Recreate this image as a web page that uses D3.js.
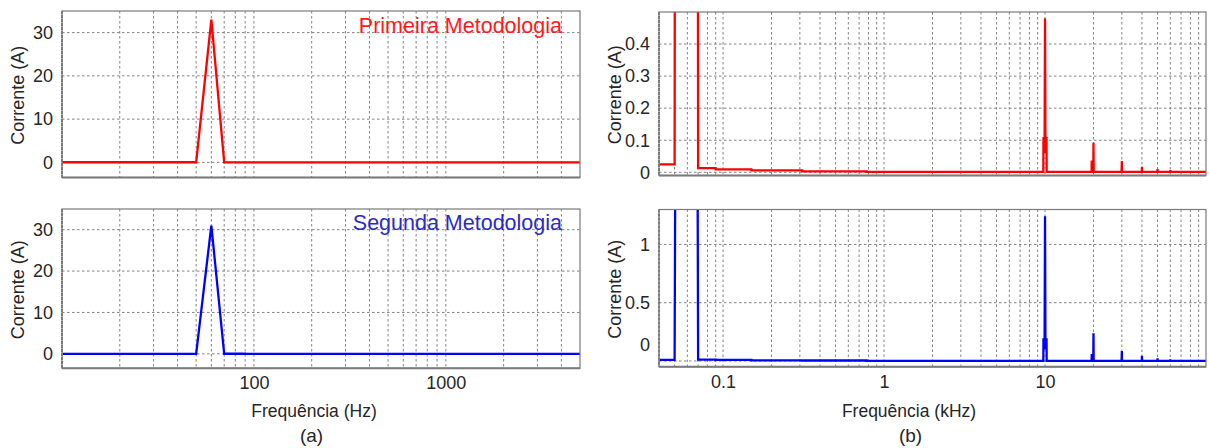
<!DOCTYPE html>
<html lang="pt">
<head>
    <meta charset="UTF-8">
    <title>Espectro de corrente</title>
    <script src="https://d3js.org/d3.v7.min.js"></script>
    <style>
        body { margin: 0; background: #fff; }
        text { font-family: "Liberation Sans", Arial, sans-serif; fill: #262626; }
    </style>
</head>
<body>
    <svg id="chart"></svg>

    <script>
        // Frequencias em Hz e corrente (A)
        const freqHz = [10, 50, 60, 70, 90, 90, 150, 150, 310, 310, 780, 780,
            9760, 9780, 9880, 9940, 10000, 10060, 10120, 10220, 10240,
            19480, 19500, 19600, 19620, 19940, 20000, 20060,
            29880, 29940, 30000, 30060,
            39940, 40000, 40060,
            49940, 50000, 50060,
            59940, 60000, 60060,
            100000];

        const primeira = [0.025, 0.025, 33, 0.013, 0.013, 0.009, 0.009, 0.006, 0.006, 0.003, 0.003, 0.001,
            0.001, 0.11, 0.06, 0.11, 0.48, 0.11, 0.06, 0.11, 0.001,
            0.001, 0.033, 0.033, 0.001, 0.001, 0.092, 0.001,
            0.001, 0.015, 0.035, 0.001,
            0.001, 0.017, 0.001,
            0.001, 0.01, 0.001,
            0.001, 0.007, 0.001,
            0.001];

        const segunda = [0.01, 0.01, 31, 0.012, 0.012, 0.01, 0.01, 0.006, 0.006, 0.004, 0.004, 0.001,
            0.001, 0.195, 0.1, 0.195, 1.242, 0.195, 0.1, 0.195, 0.001,
            0.001, 0.05, 0.05, 0.001, 0.001, 0.237, 0.001,
            0.001, 0.03, 0.086, 0.001,
            0.001, 0.045, 0.001,
            0.001, 0.023, 0.001,
            0.001, 0.015, 0.001,
            0.001];

        const yTicksA = [0, 10, 20, 30];
        const yTicksB1 = [0, 0.1, 0.2, 0.3, 0.4];
        const yTicksB2 = [0, 0.5, 1];
        const xTicksA = [100, 1000];
        const xTicksB = [100, 1000, 10000];   // mostrados em kHz

        const width = 1209, height = 448;
        const svg = d3.select("#chart").attr("width", width).attr("height", height);

        const panels = [
            { id: "tl", x0: 62, x1: 580, y0: 11, y1: 177.5, xd: [10, 5000], yd: [-3.5, 35],
              values: primeira, color: "#ff0000", yTicks: yTicksA, xTicks: null,
              title: "Primeira Metodologia", titleColor: "#ff1a1a", titleY: 32.5, yfmt: d3.format("d") },
            { id: "bl", x0: 62, x1: 580, y0: 209, y1: 368.3, xd: [10, 5000], yd: [-3.5, 35],
              values: segunda, color: "#0000ff", yTicks: yTicksA, xTicks: xTicksA, xfmt: d3.format("d"),
              title: "Segunda Metodologia", titleColor: "#2b2bc4", titleY: 230, yfmt: d3.format("d") },
            { id: "tr", x0: 659, x1: 1206, y0: 12, y1: 175.5, xd: [40, 100000], yd: [-0.01, 0.5],
              values: primeira, color: "#ff0000", yTicks: yTicksB1, xTicks: null, yfmt: d => d === 0 ? "0" : d3.format(".1f")(d) },
            { id: "br", x0: 659, x1: 1206, y0: 209.5, y1: 366.8, xd: [40, 100000], yd: [-0.05, 1.3],
              values: segunda, color: "#0000ff", yTicks: yTicksB2, xTicks: xTicksB, xfmt: d => String(d / 1000),
              yfmt: d => d === 0 ? "0" : String(d), zeroShift: -16 }
        ];

        panels.forEach(p => {
            const x = d3.scaleLog().domain(p.xd).range([p.x0, p.x1]);
            const y = d3.scaleLinear().domain(p.yd).range([p.y1, p.y0]);
            const g = svg.append("g");

            g.append("clipPath").attr("id", "clip-" + p.id)
                .append("rect").attr("x", p.x0).attr("y", p.y0)
                .attr("width", p.x1 - p.x0).attr("height", p.y1 - p.y0);

            // grade vertical (1..9 x 10^k)
            const vGrid = x.ticks().filter(v => x(v) > p.x0 + 0.5 && x(v) < p.x1 - 0.5);
            g.append("g").selectAll("line").data(vGrid).join("line")
                .attr("x1", d => x(d)).attr("x2", d => x(d))
                .attr("y1", p.y0).attr("y2", p.y1)
                .attr("stroke", "#828282").attr("stroke-width", 1)
                .attr("stroke-dasharray", "2.5,2.5");

            // grade horizontal
            g.append("g").selectAll("line").data(p.yTicks).join("line")
                .attr("x1", p.x0).attr("x2", p.x1)
                .attr("y1", d => y(d)).attr("y2", d => y(d))
                .attr("stroke", "#828282").attr("stroke-width", 1)
                .attr("stroke-dasharray", "2.5,2.5");

            // serie
            const pts = freqHz.map((f, i) => [f, p.values[i]]);
            g.append("path")
                .datum(pts)
                .attr("clip-path", "url(#clip-" + p.id + ")")
                .attr("fill", "none")
                .attr("stroke", p.color)
                .attr("stroke-width", 2.3)
                .attr("stroke-linejoin", "miter")
                .attr("d", d3.line().x(d => x(d[0])).y(d => y(d[1])));

            // moldura
            g.append("rect")
                .attr("x", p.x0).attr("y", p.y0)
                .attr("width", p.x1 - p.x0).attr("height", p.y1 - p.y0)
                .attr("fill", "none").attr("stroke", "#7a7a7a").attr("stroke-width", 1.2);
            g.append("line")
                .attr("x1", p.x0).attr("x2", p.x1).attr("y1", p.y1).attr("y2", p.y1)
                .attr("stroke", "#7a7a7a").attr("stroke-width", 2);
            g.append("line")
                .attr("x1", p.x0).attr("x2", p.x0).attr("y1", p.y0).attr("y2", p.y1)
                .attr("stroke", "#7a7a7a").attr("stroke-width", 2).attr("stroke-dasharray", "3,1");

            // eixo y
            const ya = g.append("g")
                .attr("transform", `translate(${p.x0},0)`)
                .call(d3.axisLeft(y).tickValues(p.yTicks).tickSize(0).tickPadding(9).tickFormat(p.yfmt));
            ya.select(".domain").remove();
            ya.selectAll("text").style("font-size", "18px").attr("fill", "#262626")
                .style("font-family", '"Liberation Sans", Arial, sans-serif');
            if (p.zeroShift) {
                ya.selectAll(".tick").filter(d => d === 0).select("text")
                    .attr("y", p.zeroShift);
            }

            // eixo x
            if (p.xTicks) {
                const xa = g.append("g")
                    .attr("transform", `translate(0,${p.y1})`)
                    .call(d3.axisBottom(x).tickValues(p.xTicks).tickSize(0).tickPadding(8).tickFormat(p.xfmt));
                xa.select(".domain").remove();
                xa.selectAll("text").style("font-size", "18px").attr("fill", "#262626")
                    .style("font-family", '"Liberation Sans", Arial, sans-serif');
            }

            // titulo do eixo y
            g.append("text")
                .attr("transform", `translate(${p.x0 - 44.5},${(p.y0 + p.y1) / 2 + 1}) rotate(-90)`)
                .attr("text-anchor", "middle")
                .attr("dy", "0.35em")
                .style("font-size", "18px")
                .text("Corrente (A)");

            if (p.title) {
                g.append("text")
                    .attr("x", 562).attr("y", p.titleY)
                    .attr("text-anchor", "end")
                    .style("font-size", "21.5px")
                    .style("fill", p.titleColor)
                    .text(p.title);
            }
        });

        // titulos dos eixos x e legendas (a), (b)
        const captions = [
            { x: 314, y: 416.5, size: 17.5, text: "Frequência (Hz)" },
            { x: 909, y: 416.5, size: 17.5, text: "Frequência (kHz)" },
            { x: 311.5, y: 442, size: 19, text: "(a)" },
            { x: 910.5, y: 442, size: 19, text: "(b)" }
        ];
        svg.selectAll(".caption").data(captions).join("text")
            .attr("class", "caption")
            .attr("x", d => d.x).attr("y", d => d.y)
            .attr("text-anchor", "middle")
            .style("font-size", d => d.size + "px")
            .text(d => d.text);
    </script>
</body>
</html>
